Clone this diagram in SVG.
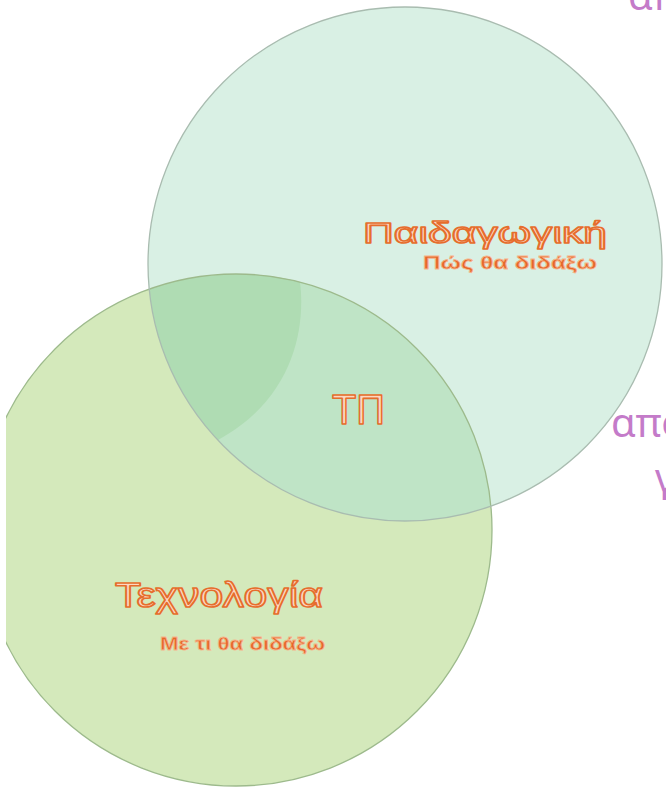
<svg xmlns="http://www.w3.org/2000/svg" width="666" height="788" viewBox="0 0 666 788">
<style>
.title{font-family:"Liberation Sans","DejaVu Sans",sans-serif;fill:#fcd8c2;stroke:#e66d2c;stroke-width:1.6;stroke-linejoin:round}
.sub{font-family:"Liberation Sans","DejaVu Sans",sans-serif;font-weight:bold;fill:#e5672a;stroke:#f6b48c;stroke-width:0.8}
.purple{font-family:"Noto Sans","Open Sans","DejaVu Sans",sans-serif;fill:#c47bc9;font-size:40px}
.edge{fill:none;stroke-width:1.3}
</style>
<defs>
<clipPath id="leftcut"><rect x="6" y="0" width="660" height="788"/></clipPath>
</defs>
<rect width="666" height="788" fill="#ffffff"/>
<g id="technology" clip-path="url(#leftcut)">
<circle cx="236" cy="530" r="256" fill="#d4e9bb"/>
</g>
<g id="pedagogy">
<circle cx="405" cy="264" r="257" fill="#d9f0e4"/>
</g>
<g id="overlap">
<path d="M149.2,289.2 A256,256 0 0 1 491,506.2 A257,257 0 0 1 149.2,289.2 Z" fill="#bfe4c6"/>
<path d="M149.2,289.2 A256,256 0 0 1 300,282 C306,330 292,400 218,440 A257,257 0 0 1 149.2,289.2 Z" fill="#afdcb3"/>
</g>
<g id="outlines">
<circle cx="236" cy="530" r="256" class="edge" stroke="#9dba8c" clip-path="url(#leftcut)"/>
<circle cx="405" cy="264" r="257" class="edge" stroke="#a9bcb0"/>
</g>
<g id="connectors"/>
<g id="pedagogy-label">
<text class="title" x="363" y="243" font-size="30" textLength="244" lengthAdjust="spacingAndGlyphs">Παιδαγωγική</text>
<text class="sub" x="423" y="269" font-size="19" textLength="174" lengthAdjust="spacingAndGlyphs">Πώς θα διδάξω</text>
</g>
<g id="technology-label">
<text class="title" x="115" y="607" font-size="35" textLength="208" lengthAdjust="spacingAndGlyphs">Τεχνολογία</text>
<text class="sub" x="160" y="650" font-size="19" textLength="165" lengthAdjust="spacingAndGlyphs">Με τι θα διδάξω</text>
</g>
<g id="tp">
<text class="title" x="332" y="424" font-size="42" textLength="53" lengthAdjust="spacingAndGlyphs">ΤΠ</text>
</g>
<g id="side-text">
<text class="purple" x="628" y="10">απ</text>
<text class="purple" x="611" y="437">απο</text>
<text class="purple" x="655" y="492">γ</text>
</g>
</svg>
